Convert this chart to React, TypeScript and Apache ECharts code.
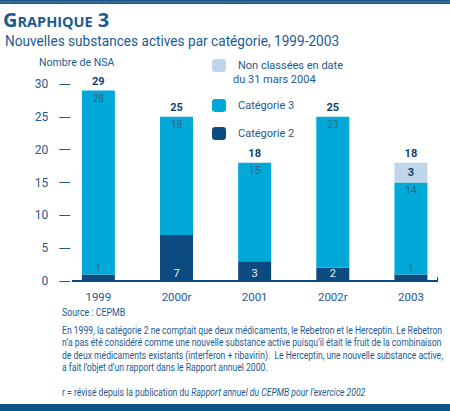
import { useEffect, useRef } from "react";
import * as echarts from "echarts";

const years = ["1999", "2000r", "2001", "2002r", "2003"];
const cat2 = [1, 7, 3, 2, 1];
const cat3 = [28, 18, 15, 23, 14];
const nonClassees = [null, null, null, null, 3];
const totals = [29, 25, 18, 25, 18];
const yTicks = [0, 30, 5]; // min, max, interval

const BLUE = "#1b5a93";
const NAVY = "#0d4a80";
const CYAN = "#00a9d8";
const PALE = "#bfd5e8";
const FONT = "Roboto, 'Open Sans', sans-serif";

const noteLines = [
  "En 1999, la catégorie 2 ne comptait que deux médicaments, le Rebetron et le Herceptin. Le Rebetron",
  "n’a pas été considéré comme une nouvelle substance active puisqu’il était le fruit de la combinaison",
  "de deux médicaments existants (interferon + ribavirin).  Le Herceptin, une nouvelle substance active,",
  "a fait l’objet d’un rapport dans le Rapport annuel 2000.",
];

const dots = (color: string) => ({
  symbol: "circle",
  symbolSize: 0.5,
  dashArrayX: [2, 2],
  dashArrayY: [2, 2],
  color,
});

// condensed-looking text drawn with the graphic component
const label = (text: string, x: number, y: number, fontSize: number, scaleX: number, extra: any = {}) => ({
  type: "text",
  x,
  y,
  scaleX,
  silent: true,
  style: { text, x: 0, y: 0, fontSize, fontFamily: FONT, fill: BLUE, verticalAlign: "middle", ...extra },
});

export default function App() {
  const elRef = useRef<HTMLDivElement>(null);

  useEffect(() => {
    if (!elRef.current) return;
    const chart = echarts.init(elRef.current, undefined, { renderer: "svg" });
    const txt = { fontFamily: FONT, color: BLUE };
    chart.setOption({
      animation: false,
      backgroundColor: "#fff",
      textStyle: { fontFamily: FONT },
      title: {
        left: 3, top: 9, padding: 0,
        text: "{a|G}{b|RAPHIQUE}{a| 3}",
        textStyle: {
          rich: {
            a: { fontFamily: "'Open Sans', sans-serif", color: BLUE, fontSize: 20, fontWeight: "bold", lineHeight: 20, verticalAlign: "bottom" },
            b: { fontFamily: "'Open Sans', sans-serif", color: BLUE, fontSize: 14.5, fontWeight: "bold", lineHeight: 16, verticalAlign: "bottom" },
          },
        },
      },
      legend: [
        { name: "Non classées en date", top: 59 },
        { name: "Catégorie 3", top: 99 },
        { name: "Catégorie 2", top: 127 },
      ].map((l) => ({
        data: [l.name],
        left: 212,
        top: l.top,
        padding: 0,
        itemWidth: 14,
        itemHeight: 13,
        itemGap: 0,
        selectedMode: false,
        textStyle: { ...txt, fontSize: 11, padding: [0, 0, 0, 7] },
      })),
      grid: { left: 59.3, right: -6.3, top: 84, bottom: 130 },
      xAxis: {
        type: "category",
        data: years,
        axisLine: { show: false },
        axisTick: { show: false },
        axisLabel: { ...txt, fontSize: 11.5, margin: 10 },
      },
      yAxis: {
        type: "value",
        min: yTicks[0],
        max: yTicks[1],
        interval: yTicks[2],
        splitLine: { show: false },
        axisLine: { show: false },
        axisTick: { show: true, inside: true, length: 11, lineStyle: { color: BLUE, width: 1 } },
        axisLabel: { ...txt, fontSize: 12, margin: 11 },
      },
      series: [
        {
          name: "Catégorie 2",
          type: "bar",
          stack: "nsa",
          barWidth: 33,
          itemStyle: { color: NAVY, decal: dots("rgba(255,255,255,0.28)") },
          label: { show: true, position: "insideBottom", distance: 2, color: "#e4edf5", fontSize: 11, fontFamily: FONT },
          data: cat2.map((v) =>
            v < 2 ? { value: v, label: { position: "top", distance: 1, color: "#3d6284", fontSize: 10 } } : v
          ),
        },
        {
          name: "Catégorie 3",
          type: "bar",
          stack: "nsa",
          barWidth: 33,
          itemStyle: { color: CYAN },
          label: { show: true, position: "insideTop", distance: 3, color: "#3d6284", fontSize: 10, fontFamily: FONT },
          data: cat3,
        },
        {
          name: "Non classées en date",
          type: "bar",
          stack: "nsa",
          barWidth: 33,
          itemStyle: { color: PALE, decal: dots("rgba(255,255,255,0.45)") },
          label: { show: true, position: "inside", color: "#0d3f6e", fontSize: 11, fontWeight: "bold", fontFamily: FONT },
          data: nonClassees,
        },
        {
          name: "Total",
          type: "bar",
          barWidth: 33,
          barGap: "-100%",
          silent: true,
          itemStyle: { color: "transparent" },
          label: { show: true, position: "top", distance: 4, color: "#0d3f6e", fontSize: 11, fontWeight: "bold", fontFamily: FONT },
          data: totals,
          z: 1,
        },
      ],
      graphic: [
        { type: "rect", shape: { x: 0, y: 0, width: 450, height: 4 }, style: { fill: "#1d5b8c" }, silent: true },
        { type: "line", shape: { x1: 0, y1: 2, x2: 450, y2: 2 }, style: { stroke: "#6f97bb", lineWidth: 1, lineDash: [1, 1] }, silent: true },
        { type: "rect", shape: { x: 0, y: 404, width: 450, height: 7 }, style: { fill: "#0f5189" }, silent: true },
        { type: "line", shape: { x1: 72, y1: 281, x2: 438, y2: 281 }, style: { stroke: NAVY, lineWidth: 2 }, silent: true, z: 10 },
        { type: "line", shape: { x1: 437.5, y1: 277, x2: 437.5, y2: 281 }, style: { stroke: NAVY, lineWidth: 1 }, silent: true, z: 10 },
        label("Nouvelles substances actives par catégorie, 1999-2003", 5, 41, 15, 0.91),
        label("Nombre de NSA", 39, 62, 11.5, 0.92),
        label("du 31 mars 2004", 233, 79, 11, 1),
        label("Source : CEPMB", 62, 312, 10, 0.88),
        ...noteLines.map((t, i) => label(t, 62, 330 + i * 12.5, 10, 0.86)),
        label("r = révisé depuis la publication du {i|Rapport annuel du CEPMB pour l’exercice 2002}", 62, 392, 10, 0.86, {
          rich: { i: { fontSize: 10, fontFamily: FONT, fill: BLUE, fontStyle: "italic" } },
        }),
      ],
    });
    return () => chart.dispose();
  }, []);

  return (
    <div
      ref={elRef}
      style={{ position: "fixed", left: 0, top: 0, width: 450, height: 411 }}
    />
  );
}
